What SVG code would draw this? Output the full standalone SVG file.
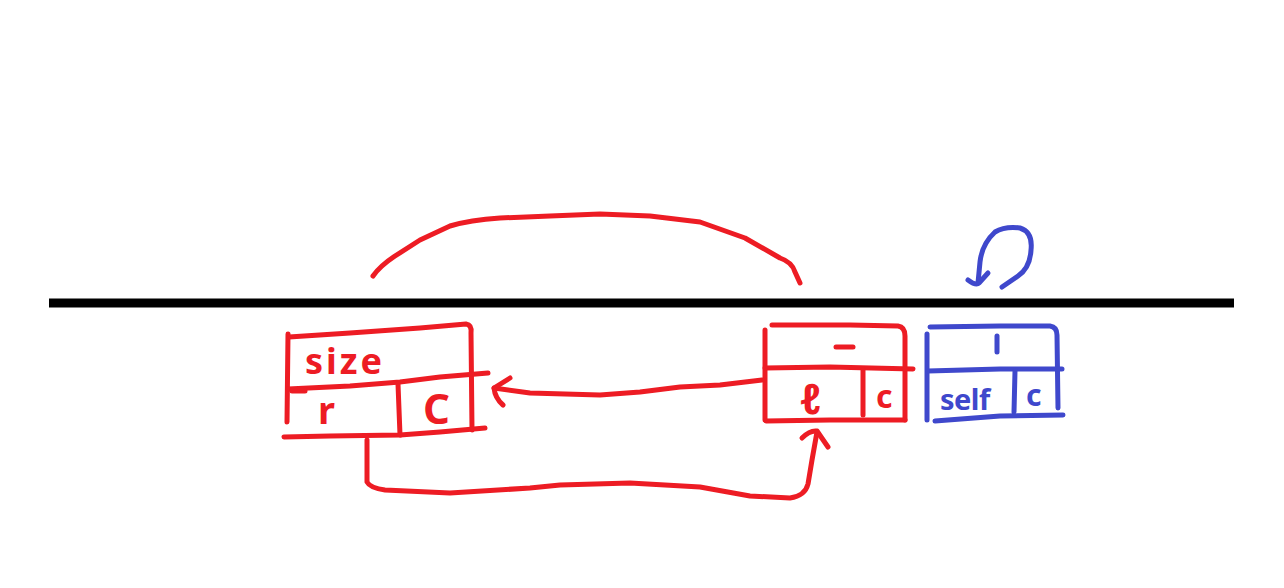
<svg xmlns="http://www.w3.org/2000/svg" width="1284" height="588" viewBox="0 0 1284 588">
<style>
.r{fill:none;stroke:#ED1C24;stroke-width:5;stroke-linecap:round;stroke-linejoin:round}
.b{fill:none;stroke:#3F48CC;stroke-width:5;stroke-linecap:round;stroke-linejoin:round}
.rt{fill:#ED1C24;font-family:"Noto Sans",sans-serif;font-weight:bold}
.bt{fill:#3F48CC;font-family:"Noto Sans",sans-serif;font-weight:bold}
</style>
<rect width="1284" height="588" fill="#fff"/>
<line x1="49" y1="303" x2="1234" y2="303" stroke="#000" stroke-width="9"/>
<g id="node-size">
<path class="r" d="M288,334 L287,422"/>
<path class="r" d="M289,337 L350,333 L420,328 L466,324 Q472,325 471,333 L472,430"/>
<path class="r" d="M288,389 L350,386 L400,382 L440,377 L488,373"/>
<path class="r" d="M292,391 L305,391"/>
<path class="r" d="M398,384 L400,435"/>
<path class="r" d="M284,437 L330,436 L400,435 L440,432 L485,428"/>
<text class="rt" x="305" y="374" font-size="36" letter-spacing="3">size</text>
<text class="rt" x="318" y="424" font-size="38">r</text>
<text class="rt" x="423" y="424" font-size="42">C</text>
</g>
<g id="node-l">
<path class="r" d="M765,330 L765,420"/>
<path class="r" d="M772,325 L850,325 L898,326 Q905,327 905,336 L905,420"/>
<path class="r" d="M765,368 L830,367 L913,369"/>
<path class="r" d="M863,370 L863,415"/>
<path class="r" d="M766,421 L830,420 L905,420"/>
<path class="r" d="M836,347 L853,347"/>
<text class="rt" x="800" y="414" font-size="42" font-style="italic">ℓ</text>
<text class="rt" x="876" y="408" font-size="32">c</text>
</g>
<g id="node-1">
<path class="b" d="M927,334 L927,420"/>
<path class="b" d="M930,327 L1000,326 L1050,326 Q1057,327 1057,335 L1058,408"/>
<path class="b" d="M928,371 L1000,369 L1062,369"/>
<path class="b" d="M1015,371 L1014,412"/>
<path class="b" d="M935,421 L1000,416 L1063,415"/>
<path class="b" d="M997,336 L997,352"/>
<text class="bt" x="940" y="410" font-size="29" letter-spacing="-0.5">self</text>
<text class="bt" x="1026" y="406" font-size="30">c</text>
</g>
<g id="connectors">
<path class="r" d="M373,276 Q380,266 395,256 L420,240 L450,226 Q470,220 500,218 L550,216 L600,214 L650,216 L700,222 L745,238 L780,258 Q792,262 795,272 L800,283"/>
<path class="r" d="M762,380 L720,385 L680,387 L640,392 L600,395 L530,393 L494,388"/>
<path class="r" d="M510,378 L494,388 Q495,398 503,405"/>
<path class="r" d="M367,440 L367,482 Q370,488 385,490 L450,493 L530,488 L560,485 L630,483 L700,487 L750,496 L790,498 Q805,496 808,484 L812,460 L817,432"/>
<path class="r" d="M802,438 Q810,430 817,431 L828,447"/>
<path class="b" d="M1002,287 L1018,276 Q1030,268 1031,250 Q1033,232 1020,228 Q1005,226 995,232 Q982,244 980,262 L978,283"/>
<path class="b" d="M968,280 Q976,286 979,283 L988,273"/>
</g>
</svg>
